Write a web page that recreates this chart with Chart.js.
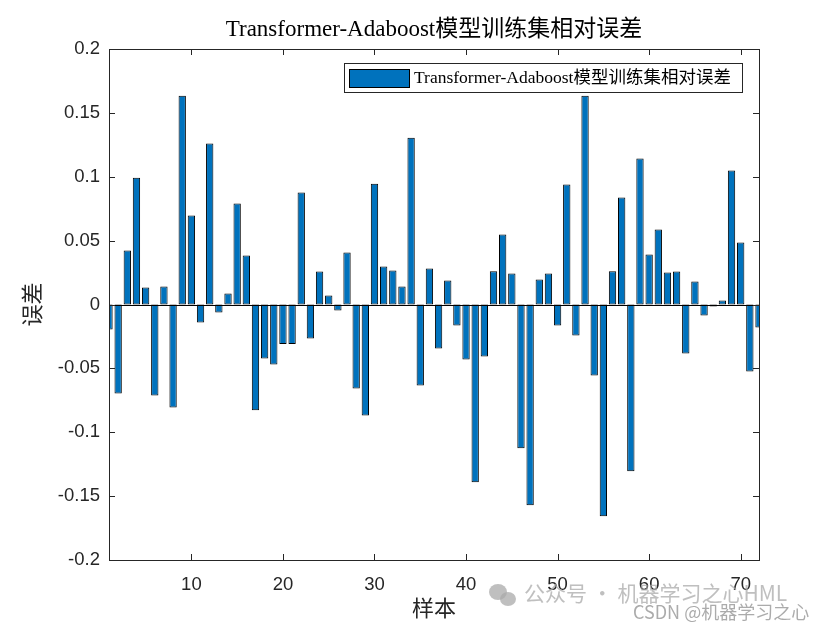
<!DOCTYPE html>
<html>
<head>
<meta charset="utf-8">
<script src="https://cdn.jsdelivr.net/npm/chart.js@4.4.1/dist/chart.umd.min.js"></script>
<style>
  html, body { margin: 0; padding: 0; background: #ffffff; }
  #wrap { width: 840px; height: 630px; }
</style>
</head>
<body>
<div id="wrap"><canvas id="c" width="840" height="630"></canvas></div>
<script>
const samples = [1,2,3,4,5,6,7,8,9,10,11,12,13,14,15,16,17,18,19,20,21,22,23,24,25,26,27,28,29,30,31,32,33,34,35,36,
  37,38,39,40,41,42,43,44,45,46,47,48,49,50,51,52,53,54,55,56,57,58,59,60,61,62,63,64,65,66,67,68,69,70,71,72];
const errors = [-0.0196,-0.0696,0.0422,0.0993,0.0133,-0.0712,0.0141,-0.0806,0.1635,0.0696,-0.0141,0.1260,
  -0.0063,0.0086,0.0790,0.0383,-0.0827,-0.0422,-0.0469,-0.0310,-0.0310,0.0876,-0.0266,0.0258,
  0.0070,-0.0047,0.0407,-0.0657,-0.0868,0.0946,0.0297,0.0266,0.0141,0.1306,-0.0634,0.0282,
  -0.0344,0.0188,-0.0164,-0.0430,-0.1392,-0.0407,0.0260,0.0548,0.0242,-0.1126,-0.1572,0.0196,
  0.0242,-0.0164,0.0939,-0.0243,0.1635,-0.0555,-0.1658,0.0260,0.0837,-0.1306,0.1142,0.0391,
  0.0587,0.0250,0.0258,-0.0383,0.0180,-0.0086,-0.0016,0.0031,0.1048,0.0485,-0.0524,-0.0180];
const xTicks = [10,20,30,40,50,60,70];
const yTicks = [-0.2,-0.15,-0.1,-0.05,0,0.05,0.1,0.15,0.2];
const titleText = 'Transformer-Adaboost模型训练集相对误差';
const seriesLabel = 'Transformer-Adaboost模型训练集相对误差';
const xLabel = '样本';
const yLabel = '误差';

const AX = '#262626';
const SERIF = '"Liberation Serif", "Noto Sans CJK SC", serif';
const SANS = '"Liberation Sans", Arial, sans-serif';

const decor = {
  id: 'decor',
  afterDraw(chart) {
    const ctx = chart.ctx;
    const a = chart.chartArea;
    const xs = chart.scales.x, ys = chart.scales.y;
    ctx.save();
    // zero baseline
    const y0 = ys.getPixelForValue(0);
    ctx.strokeStyle = '#000';
    ctx.lineWidth = 1;
    ctx.beginPath();
    ctx.moveTo(a.left, Math.round(y0) + 0.5);
    ctx.lineTo(a.right, Math.round(y0) + 0.5);
    ctx.stroke();
    // box
    ctx.strokeStyle = AX;
    ctx.lineWidth = 1;
    ctx.strokeRect(Math.round(a.left) + 0.5, Math.round(a.top) + 0.5,
      Math.round(a.right - a.left), Math.round(a.bottom - a.top));
    // inward ticks
    const tl = 6;
    ctx.beginPath();
    xTicks.forEach(v => {
      const px = Math.round(xs.getPixelForValue(v)) + 0.5;
      ctx.moveTo(px, a.bottom); ctx.lineTo(px, a.bottom - tl);
      ctx.moveTo(px, a.top); ctx.lineTo(px, a.top + tl);
    });
    yTicks.forEach(v => {
      const py = Math.round(ys.getPixelForValue(v)) + 0.5;
      ctx.moveTo(a.left, py); ctx.lineTo(a.left + tl, py);
      ctx.moveTo(a.right, py); ctx.lineTo(a.right - tl, py);
    });
    ctx.stroke();

    // title
    ctx.fillStyle = '#000';
    ctx.font = '23px ' + SERIF;
    ctx.textAlign = 'center';
    ctx.textBaseline = 'middle';
    ctx.fillText(titleText, (a.left + a.right) / 2, 30);
    // axis labels
    ctx.fillStyle = AX;
    ctx.font = '22px ' + SERIF;
    ctx.fillText(xLabel, (a.left + a.right) / 2, 610);
    ctx.save();
    ctx.translate(34, (a.top + a.bottom) / 2);
    ctx.rotate(-Math.PI / 2);
    ctx.fillText(yLabel, 0, 0);
    ctx.restore();

    // legend
    const lx = 344.5, ly = 63.5, lw = 398, lh = 29;
    ctx.fillStyle = '#fff';
    ctx.fillRect(lx, ly, lw, lh);
    ctx.strokeStyle = AX;
    ctx.strokeRect(lx, ly, lw, lh);
    const ds = chart.data.datasets[0];
    ctx.fillStyle = ds.backgroundColor;
    ctx.fillRect(349.5, 69.5, 60, 18);
    ctx.strokeStyle = '#000';
    ctx.strokeRect(349.5, 69.5, 60, 18);
    ctx.fillStyle = '#000';
    ctx.font = '17.5px ' + SERIF;
    ctx.textAlign = 'left';
    ctx.fillText(ds.label, 414, 78.5);

    // watermarks
    ctx.fillStyle = 'rgba(170,170,170,0.75)';
    ctx.beginPath();
    ctx.ellipse(498, 592, 9, 8, 0, 0, Math.PI * 2);
    ctx.fill();
    ctx.beginPath();
    ctx.ellipse(508, 599, 8, 7, 0, 0, Math.PI * 2);
    ctx.fill();
    ctx.font = '21px "Noto Sans CJK SC", sans-serif';
    ctx.textAlign = 'left';
    ctx.fillText('公众号 · 机器学习之心HML', 524, 593);
    ctx.fillStyle = 'rgba(150,150,150,0.8)';
    ctx.font = '18px "Noto Sans CJK SC", sans-serif';
    ctx.fillText('CSDN @机器学习之心', 633, 612);
    ctx.restore();
  }
};

new Chart(document.getElementById('c'), {
  type: 'bar',
  data: {
    datasets: [{
      label: seriesLabel,
      data: samples.map((s, i) => ({ x: s, y: errors[i] })),
      backgroundColor: '#0072BD',
      borderColor: '#000000',
      borderWidth: 1,
      borderSkipped: false,
      barPercentage: 0.8,
      categoryPercentage: 1.0,
      clip: 0
    }]
  },
  options: {
    responsive: false,
    animation: false,
    devicePixelRatio: 1,
    layout: { padding: { top: 49, right: 81, bottom: 0, left: 0 } },
    plugins: {
      legend: { display: false },
      title: { display: false },
      tooltip: { enabled: false }
    },
    scales: {
      x: {
        type: 'linear',
        min: 1, max: 72,
        offset: false,
        grid: { display: false, drawTicks: false, offset: false },
        border: { display: false },
        afterBuildTicks: s => { s.ticks = xTicks.map(v => ({ value: v })); },
        afterFit: s => { s.height = 70; },
        ticks: {
          autoSkip: false, maxRotation: 0, padding: 14,
          color: AX, font: { family: SANS, size: 18.5 },
          callback: v => String(v)
        }
      },
      y: {
        min: -0.2, max: 0.2,
        grid: { display: false, drawTicks: false },
        border: { display: false },
        afterBuildTicks: s => { s.ticks = yTicks.map(v => ({ value: v })); },
        afterFit: s => { s.width = 109; },
        ticks: {
          padding: 9,
          color: AX, font: { family: SANS, size: 18.5 },
          callback: v => { const r = Math.round(v * 100) / 100; return r === 0 ? '0' : String(r); }
        }
      }
    }
  },
  plugins: [decor]
});
</script>
</body>
</html>
